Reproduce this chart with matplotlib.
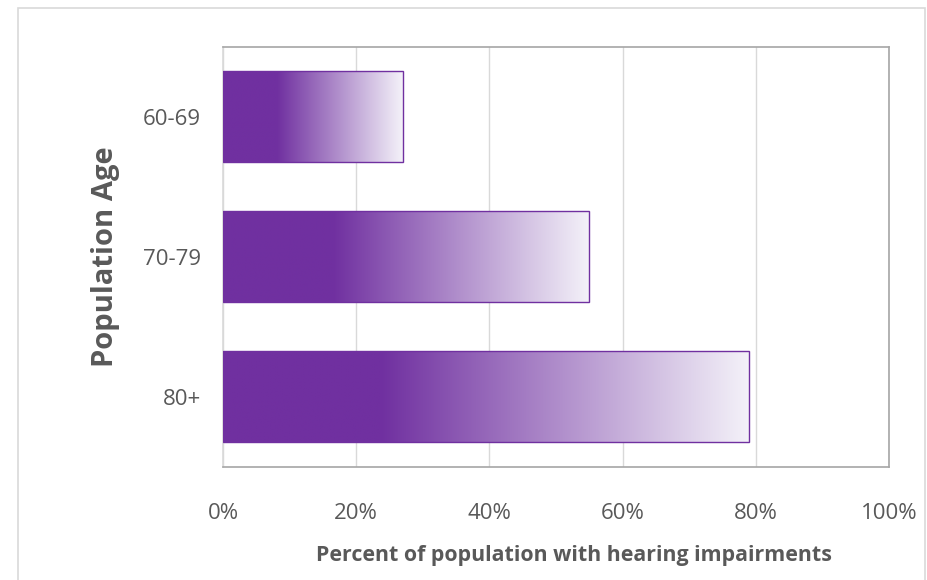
import numpy as np
import matplotlib
matplotlib.use("Agg")
import matplotlib.pyplot as plt
from matplotlib.patches import Rectangle
from matplotlib.ticker import PercentFormatter

# Data
age_groups = ["60-69", "70-79", "80+"]
percent_impaired = [27, 55, 79]
x_ticks = [0, 20, 40, 60, 80, 100]

purple = np.array([0x70, 0x30, 0xA0]) / 255
light = np.array([0xF4, 0xF2, 0xF9]) / 255
text_grey = "#595959"

plt.rcParams["font.family"] = ["Open Sans", "DejaVu Sans"]

fig = plt.figure(figsize=(9.28, 5.8), dpi=100)
ax = fig.add_axes([0.2403, 0.195, 0.7177, 0.724])

bars = ax.barh(
    age_groups,
    percent_impaired,
    height=0.65,
    facecolor="none",
    edgecolor="#7030A0",
    linewidth=1.0,
    zorder=4
)

# gradient fill: solid purple for first ~30%, fading to near white
t = np.linspace(0, 1, 400)
f = np.clip((t - 0.3) / 0.7, 0, 1)
grad = purple[None, :] * (1 - f[:, None]) + light[None, :] * f[:, None]
grad = grad[None, :, :]

for bar in bars:
    x0 = bar.get_x()
    y0 = bar.get_y()
    ax.imshow(
        grad,
        extent=(x0, x0 + bar.get_width(), y0 + bar.get_height(), y0),
        aspect="auto",
        interpolation="bilinear",
        zorder=3
    )

ax.set_xlim(0, 100)
ax.set_ylim(2.5, -0.5)
ax.set_xticks(x_ticks)
ax.xaxis.set_major_formatter(PercentFormatter(decimals=0))

ax.grid(axis="x", color="#D9D9D9", linewidth=1.0, zorder=1)
ax.set_axisbelow(True)

for side in ["top", "right", "bottom"]:
    ax.spines[side].set_color("#A6A6A6")
    ax.spines[side].set_linewidth(1.2)
ax.spines["left"].set_color("#D9D9D9")
ax.spines["left"].set_linewidth(1.2)

ax.tick_params(axis="both", length=0, labelsize=16, colors=text_grey)
ax.tick_params(axis="x", pad=26)
ax.tick_params(axis="y", pad=16)

ax.set_xlabel(
    "Percent of population with hearing impairments",
    fontsize=15.4,
    fontweight="bold",
    color=text_grey,
    labelpad=15
)
ax.xaxis.label.set_x(0.527)

ax.set_ylabel(
    "Population Age",
    fontsize=21,
    fontweight="bold",
    color=text_grey,
    labelpad=16
)

# outer chart border
fig.patches.append(Rectangle(
    (18 / 928, -0.1), (925 - 18) / 928, 1.1 - 8 / 580,
    transform=fig.transFigure,
    fill=False,
    edgecolor="#D9D9D9",
    linewidth=1.2
))

fig.savefig("out.png", dpi=100)
